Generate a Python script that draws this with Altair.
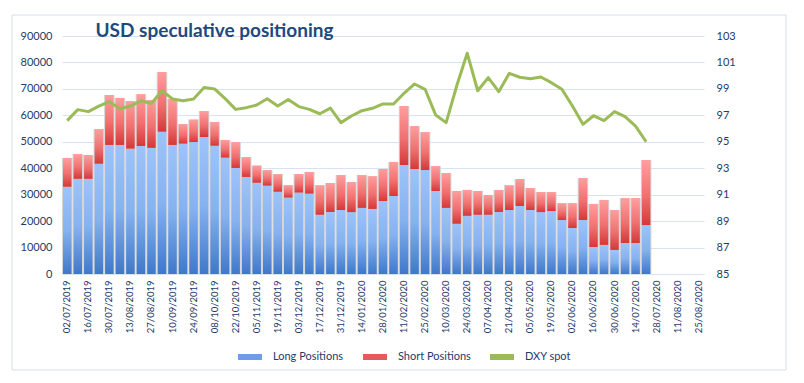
import altair as alt
import pandas as pd

# ---------------- data ----------------
dates = [
    "02/07/2019", "09/07/2019", "16/07/2019", "23/07/2019", "30/07/2019", "06/08/2019",
    "13/08/2019", "20/08/2019", "27/08/2019", "03/09/2019", "10/09/2019", "17/09/2019",
    "24/09/2019", "01/10/2019", "08/10/2019", "15/10/2019", "22/10/2019", "29/10/2019",
    "05/11/2019", "12/11/2019", "19/11/2019", "26/11/2019", "03/12/2019", "10/12/2019",
    "17/12/2019", "24/12/2019", "31/12/2019", "07/01/2020", "14/01/2020", "21/01/2020",
    "28/01/2020", "04/02/2020", "11/02/2020", "18/02/2020", "25/02/2020", "03/03/2020",
    "10/03/2020", "17/03/2020", "24/03/2020", "31/03/2020", "07/04/2020", "14/04/2020",
    "21/04/2020", "28/04/2020", "05/05/2020", "12/05/2020", "19/05/2020", "26/05/2020",
    "02/06/2020", "09/06/2020", "16/06/2020", "23/06/2020", "30/06/2020", "07/07/2020",
    "14/07/2020", "21/07/2020", "28/07/2020", "04/08/2020", "11/08/2020", "18/08/2020",
    "25/08/2020",
]

x_labels = [
    "02/07/2019", "16/07/2019", "30/07/2019", "13/08/2019", "27/08/2019", "10/09/2019",
    "24/09/2019", "08/10/2019", "22/10/2019", "05/11/2019", "19/11/2019", "03/12/2019",
    "17/12/2019", "31/12/2019", "14/01/2020", "28/01/2020", "11/02/2020", "25/02/2020",
    "10/03/2020", "24/03/2020", "07/04/2020", "21/04/2020", "05/05/2020", "19/05/2020",
    "02/06/2020", "16/06/2020", "30/06/2020", "14/07/2020", "28/07/2020", "11/08/2020",
    "25/08/2020",
]

long_positions = [
    33000, 36000, 36000, 41700, 48800, 48800, 47400, 48400, 47700, 53800,
    48800, 49300, 49900, 51800, 48500, 44000, 40100, 36700, 34500, 33400,
    31100, 28900, 30800, 30400, 22400, 23400, 24200, 23400, 25000, 24600,
    27600, 29500, 41200, 39700, 39300, 31400, 25000, 19000, 22000, 22400,
    22400, 23400, 24200, 25700, 24200, 23400, 23800, 20400, 17400, 20400,
    10200, 11000, 9100, 11700, 11700, 18500,
]

short_positions = [
    10900, 9400, 9000, 13100, 18900, 17800, 18000, 19600, 18100, 22600,
    17500, 7400, 8500, 9800, 9000, 6700, 9800, 7500, 6500, 5900,
    6700, 4700, 7000, 8200, 11200, 11000, 13200, 11400, 12400, 12400,
    12100, 12900, 22300, 16300, 14400, 9400, 13200, 12400, 9800, 9000,
    7500, 8400, 9400, 10200, 8300, 7600, 7200, 6400, 9400, 15900,
    16300, 17000, 15100, 17000, 17000, 24600,
]

dxy_spot = [
    96.60, 97.43, 97.28, 97.70, 98.03, 97.50, 97.70, 98.10, 97.90, 98.86,
    98.24, 98.10, 98.24, 99.10, 99.00, 98.26, 97.45, 97.58, 97.78, 98.26,
    97.70, 98.20, 97.66, 97.45, 97.12, 97.55, 96.45, 96.95, 97.35, 97.53,
    97.86, 97.86, 98.67, 99.37, 98.97, 97.03, 96.45, 99.22, 101.70, 98.86,
    99.85, 98.79, 100.18, 99.88, 99.77, 99.90, 99.47, 98.97, 97.70, 96.32,
    96.97, 96.60, 97.28, 96.90, 96.19, 95.00,
]

series_names = ["Long Positions", "Short Positions", "DXY spot"]
left_ticks = [0, 10000, 20000, 30000, 40000, 50000, 60000, 70000, 80000, 90000]
right_ticks = [85, 87, 89, 91, 93, 95, 97, 99, 101, 103]

# ---------------- frames ----------------
n = len(long_positions)
bars_df = pd.DataFrame({"date": dates[:n], "long": long_positions, "short": short_positions})
bars_df["total"] = bars_df["long"] + bars_df["short"]
line_df = pd.DataFrame({"date": dates[:len(dxy_spot)], "dxy": dxy_spot})
legend_df = pd.DataFrame({"series": series_names, "date": [dates[0]] * 3, "v": [0, 0, 0]})
frame_df = pd.DataFrame({"k": [0]})

# ---------------- style ----------------
FONT = "Lato"
TXT = "#1F3B6B"
GRID = "#D9E1F2"

blue_grad = alt.LinearGradient(
    gradient="linear", x1=0, x2=0, y1=0, y2=1,
    stops=[alt.GradientStop(color="#9DC3FA", offset=0),
           alt.GradientStop(color="#86B2F0", offset=0.5),
           alt.GradientStop(color="#3F78C9", offset=1)],
)
red_grad = alt.LinearGradient(
    gradient="linear", x1=0, x2=0, y1=0, y2=1,
    stops=[alt.GradientStop(color="#FF9E9E", offset=0),
           alt.GradientStop(color="#F07070", offset=0.55),
           alt.GradientStop(color="#D43838", offset=1)],
)

x_enc = alt.X(
    "date:N",
    sort=None,
    scale=alt.Scale(domain=dates, paddingInner=0, paddingOuter=0),
    axis=alt.Axis(
        values=x_labels, labelAngle=270, labelAlign="right", labelBaseline="middle",
        labelPadding=6, ticks=False, domainColor=GRID, domainWidth=1, grid=False,
        labelColor=TXT, labelFont=FONT, labelFontSize=9.5, labelOverlap=False,
    ),
    title=None,
)

y_scale = alt.Scale(domain=[0, 90000], nice=False, zero=True)
y_axis = alt.Axis(
    values=left_ticks, format="d", grid=True, gridColor=GRID, gridWidth=1,
    domain=False, ticks=False, labelPadding=10, labelColor=TXT, labelFont=FONT,
    labelFontSize=11,
)

shadow = alt.Chart(bars_df).mark_bar(
    width=alt.RelativeBandSize(1), color="#D5D5D5"
).encode(
    x=x_enc,
    y=alt.Y("total:Q", scale=y_scale, axis=y_axis, title=None),
)

long_bars = alt.Chart(bars_df).mark_bar(
    width=alt.RelativeBandSize(0.81), fill=blue_grad
).encode(
    x=x_enc,
    y=alt.Y("long:Q", scale=y_scale, axis=y_axis, title=None),
)

short_bars = alt.Chart(bars_df).mark_bar(
    width=alt.RelativeBandSize(0.81), fill=red_grad
).encode(
    x=x_enc,
    y=alt.Y("total:Q", scale=y_scale, axis=y_axis, title=None),
    y2="long:Q",
)

legend_layer = alt.Chart(legend_df).mark_point(filled=True, opacity=0).encode(
    x=x_enc,
    y=alt.Y("v:Q", scale=y_scale, axis=y_axis, title=None),
    color=alt.Color(
        "series:N",
        scale=alt.Scale(domain=series_names, range=["#6E9FE6", "#E85A5A", "#9BBB59"]),
        legend=alt.Legend(
            orient="none", legendX=176, legendY=309, direction="horizontal",
            title=None, symbolType="M-1,-0.25H1V0.25H-1Z", symbolSize=576,
            symbolOpacity=1, symbolStrokeWidth=0, labelOffset=11, columnPadding=19,
            labelFontSize=11, labelColor=TXT, labelFont=FONT, padding=0,
        ),
    ),
)

left_layer = alt.layer(shadow, long_bars, short_bars, legend_layer)

line = alt.Chart(line_df).mark_line(color="#9BBB59", strokeWidth=3, strokeJoin="round").encode(
    x=x_enc,
    y=alt.Y(
        "dxy:Q",
        scale=alt.Scale(domain=[85, 103], nice=False, zero=False),
        axis=alt.Axis(
            orient="right", values=right_ticks, grid=False, domain=False, ticks=False,
            labelPadding=12, labelColor=TXT, labelFont=FONT, labelFontSize=11,
        ),
        title=None,
    ),
)

# decorative chart-area border (Excel chart frame)
frame = alt.Chart(frame_df).mark_rect(
    filled=False, stroke="#D6DEEB", strokeWidth=1, clip=False
).encode(
    x=alt.value(-50), x2=alt.value(724), y=alt.value(-21), y2=alt.value(334),
)

chart = alt.layer(left_layer, line, frame).resolve_scale(y="independent").properties(
    width=642,
    height=238,
    padding={"left": 54, "top": 28, "right": 92, "bottom": 100},
    autosize=alt.AutoSizeParams(type="none"),
    background="white",
    title=alt.TitleParams(
        "USD speculative positioning", anchor="start", dx=84, offset=0, dy=41,
        baseline="alphabetic", font=FONT, fontSize=19, fontWeight="bold", color="#1F497D",
    ),
).configure_view(strokeWidth=0)

chart.save("out.html", embed_options={"renderer": "svg", "actions": False})
